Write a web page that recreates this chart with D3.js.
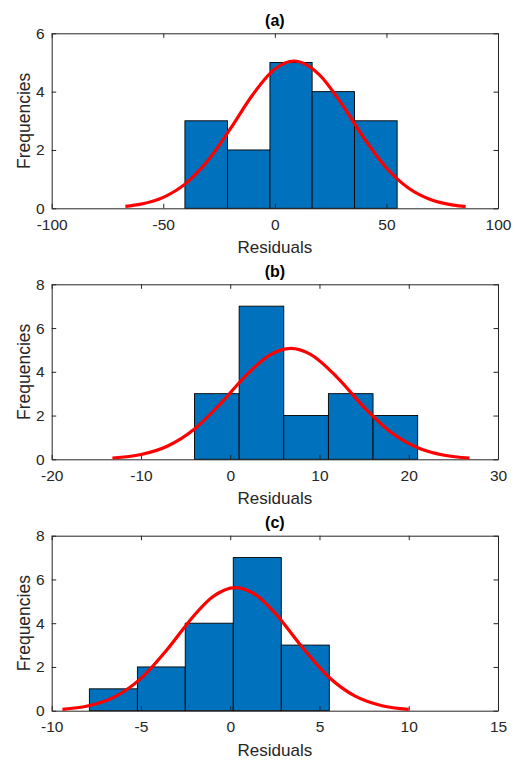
<!DOCTYPE html>
<html>
<head>
<meta charset="utf-8">
<script src="https://cdn.jsdelivr.net/npm/d3@7"></script>
<style>
  body { margin: 0; background: #fff; }
  text { font-family: "Liberation Sans", Arial, Helvetica, sans-serif; fill: #262626; }
</style>
</head>
<body>
<div id="chart"></div>
<script>
// panel (a)
var aEdges = [-40.3, -21.2, -2.2, 16.7, 35.7, 54.8];
var aCounts = [3, 2, 5, 4, 3];
var aFitX = [-67, -60, -50, -40, -30, -20, -10, 0, 8.6, 20, 30, 40, 50, 60, 70, 80, 85.5];
var aFitY = [0.067, 0.144, 0.376, 0.846, 1.636, 2.72, 3.887, 4.775, 5.05, 4.577, 3.571, 2.395, 1.381, 0.685, 0.291, 0.107, 0.058];
var aXTicks = [-100, -50, 0, 50, 100];
var aYTicks = [0, 2, 4, 6];

// panel (b)
var bEdges = [-4, 1, 6, 11, 16, 21];
var bCounts = [3, 7, 2, 3, 2];
var bFitX = [-13.2, -10, -7, -4, -1, 2, 4.5, 6.77, 9, 12, 15, 18, 21, 24, 26.8];
var bFitY = [0.059, 0.219, 0.61, 1.387, 2.583, 3.932, 4.786, 5.07, 4.796, 3.735, 2.379, 1.239, 0.528, 0.184, 0.057];
var bXTicks = [-20, -10, 0, 10, 20, 30];
var bYTicks = [0, 2, 4, 6, 8];

// panel (c)
var cEdges = [-7.89, -5.2, -2.52, 0.17, 2.86, 5.55];
var cCounts = [1, 2, 4, 7, 3];
var cFitX = [-9.4, -8, -6.5, -5, -3.5, -2, -1, 0.3, 1.5, 2.5, 4, 5.5, 7, 8.5, 10];
var cFitY = [0.064, 0.212, 0.623, 1.478, 2.831, 4.376, 5.195, 5.63, 5.257, 4.471, 2.934, 1.553, 0.664, 0.229, 0.064];
var cXTicks = [-10, -5, 0, 5, 10, 15];
var cYTicks = [0, 2, 4, 6, 8];

var panels = [
  { title: "(a)", top: 33.3, edges: aEdges, counts: aCounts, fitX: aFitX, fitY: aFitY, xTicks: aXTicks, yTicks: aYTicks },
  { title: "(b)", top: 284.3, edges: bEdges, counts: bCounts, fitX: bFitX, fitY: bFitY, xTicks: bXTicks, yTicks: bYTicks },
  { title: "(c)", top: 535.7, edges: cEdges, counts: cCounts, fitX: cFitX, fitY: cFitY, xTicks: cXTicks, yTicks: cYTicks }
];

var svg = d3.select("#chart").append("svg").attr("width", 515).attr("height", 761);

var left = 51.7, right = 498, plotH = 175;
var fmt = (d) => String(d);

panels.forEach(function (p) {
  var g = svg.append("g").attr("transform", "translate(0," + p.top + ")");
  var x = d3.scaleLinear()
    .domain([p.xTicks[0], p.xTicks[p.xTicks.length - 1]])
    .range([left, right]);
  var y = d3.scaleLinear()
    .domain([0, p.yTicks[p.yTicks.length - 1]])
    .range([plotH, 0]);

  var bins = p.counts.map((c, i) => ({ x0: p.edges[i], x1: p.edges[i + 1], n: c }));
  g.selectAll("rect.bar")
    .data(bins)
    .enter()
    .append("rect")
    .attr("class", "bar")
    .attr("x", (d) => x(d.x0))
    .attr("y", (d) => y(d.n))
    .attr("width", (d) => x(d.x1) - x(d.x0))
    .attr("height", (d) => y(0) - y(d.n))
    .style("fill", "#0072BD")
    .style("stroke", "#000")
    .style("stroke-width", 0.9);

  // axes, ticks inward, box on
  var xb = g.append("g").attr("transform", "translate(0," + plotH + ")")
    .call(d3.axisBottom(x).tickValues(p.xTicks).tickFormat(fmt).tickSizeInner(-4.5).tickSizeOuter(0).tickPadding(10.5));
  var xt = g.append("g")
    .call(d3.axisTop(x).tickValues(p.xTicks).tickFormat("").tickSizeInner(-4.5).tickSizeOuter(0));
  var yl = g.append("g").attr("transform", "translate(" + left + ",0)")
    .call(d3.axisLeft(y).tickValues(p.yTicks).tickFormat(fmt).tickSizeInner(-4.5).tickSizeOuter(0).tickPadding(7));
  var yr = g.append("g").attr("transform", "translate(" + right + ",0)")
    .call(d3.axisRight(y).tickValues(p.yTicks).tickFormat("").tickSizeInner(-4.5).tickSizeOuter(0));
  [xb, xt, yl, yr].forEach(function (a) {
    a.select(".domain").style("stroke", "#262626").style("stroke-width", 1);
    a.selectAll(".tick line").style("stroke", "#262626").style("stroke-width", 1);
    a.selectAll(".tick text").style("font-size", "15.5px").style("fill", "#262626")
      .style("font-family", '"Liberation Sans", Arial, sans-serif');
  });

  var line = d3.line()
    .x((d) => x(d[0]))
    .y((d) => y(d[1]))
    .curve(d3.curveMonotoneX);
  g.append("path")
    .datum(p.fitX.map((v, i) => [v, p.fitY[i]]))
    .attr("d", line)
    .style("fill", "none")
    .style("stroke", "#FF0000")
    .style("stroke-width", 3.2);

  g.append("text")
    .attr("x", (left + right) / 2)
    .attr("y", -7.5)
    .attr("text-anchor", "middle")
    .style("font-size", "16px")
    .style("font-weight", "bold")
    .style("fill", "#000")
    .text(p.title);

  g.append("text")
    .attr("x", (left + right) / 2)
    .attr("y", plotH + 45)
    .attr("text-anchor", "middle")
    .style("font-size", "17px")
    .text("Residuals");

  g.append("text")
    .attr("transform", "translate(29.5," + plotH / 2 + ") rotate(-90)")
    .attr("text-anchor", "middle")
    .style("font-size", "17.5px")
    .text("Frequencies");
});
</script>
</body>
</html>
